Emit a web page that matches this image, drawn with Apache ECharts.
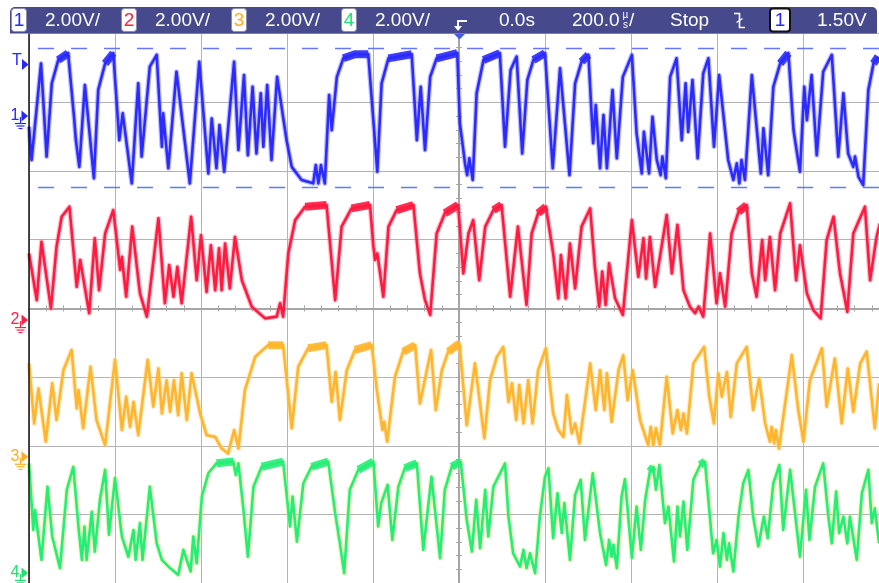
<!DOCTYPE html>
<html><head><meta charset="utf-8">
<script src="https://cdn.jsdelivr.net/npm/echarts@6/dist/echarts.min.js"></script>
<style>html,body{margin:0;padding:0;background:#fff;}#c{width:879px;height:583px;}</style>
</head><body><div id="c"></div>
<script>
// ---- Data (time in µs, voltage in V) ----
const ch1Time = [-1000,-994,-972,-959,-947,-932,-909,-895,-891,-883,-870,-849,-839,-823,-804,-790,-782,-761,-746,-738,-719,-703,-691,-688,-676,-657,-626,-604,-583,-575,-564,-557,-546,-523,-513,-500,-491,-480,-471,-461,-455,-446,-436,-423,-401,-389,-366,-339,-333,-327,-321,-312,-302,-296,-284,-269,-242,-211,-190,-180,-164,-110,-98,-89,-79,-67,-52,-4,2,14,19,24,32,41,57,95,107,120,134,147,159,173,200,218,235,257,270,285,301,312,318,328,336,344,357,367,381,402,413,425,430,442,450,460,469,473,481,491,506,518,527,533,543,555,568,580,593,605,626,638,646,652,657,665,681,702,708,719,731,747,766,778,785,793,803,809,820,832,847,867,882,894,905,917,921,929,940,952,964,975];
const ch1Volt = [-0.31,-1.28,1.53,-1.18,0.95,1.63,1.83,-0.07,-0.70,-1.48,0.90,-1.81,0.76,1.53,1.83,-0.70,0.08,-1.96,0.95,-1.18,1.44,1.78,-0.89,0.08,-1.52,1.29,-1.96,1.58,-1.67,-0.07,-1.52,-0.26,-1.62,1.58,-0.99,1.19,-1.14,0.85,-1.09,0.66,-0.89,0.90,-1.28,1.14,-0.70,-1.48,-1.86,-1.96,-1.43,-1.96,-1.43,-1.96,0.61,-0.41,1.14,1.68,1.80,1.80,-1.62,0.95,1.68,1.80,-0.70,0.85,-0.99,1.14,1.68,1.83,-0.21,-1.38,-1.72,-1.23,-1.86,0.66,1.63,1.83,-0.89,1.34,1.73,-1.09,1.05,1.63,1.83,-1.52,1.39,-1.72,0.95,1.58,1.78,-0.79,0.32,-1.52,0.03,-1.52,0.76,-1.23,1.14,1.78,-0.50,-1.67,-0.46,-1.67,-0.02,-1.28,-1.72,-1.18,-1.81,1.14,1.68,-0.70,0.95,-0.46,1.05,-1.23,1.24,1.68,-0.89,1.19,-1.28,-1.86,-1.38,-1.96,-1.28,-1.86,1.19,-1.67,-0.36,-1.72,0.85,1.53,1.83,-0.41,-0.99,-1.62,0.85,-0.12,1.19,-1.14,1.29,1.78,-1.18,0.66,-1.09,-1.48,-1.18,-1.77,-2.01,0.76,1.53,1.73];

const ch2Time = [-1000,-982,-971,-949,-936,-924,-906,-889,-881,-860,-847,-837,-823,-804,-788,-784,-774,-760,-742,-726,-699,-684,-674,-664,-655,-645,-623,-610,-600,-587,-577,-567,-558,-552,-544,-533,-521,-505,-482,-451,-424,-416,-409,-397,-381,-358,-308,-288,-273,-250,-207,-199,-195,-190,-176,-164,-145,-106,-91,-79,-67,-52,-33,-2,10,22,33,47,61,80,99,119,137,157,169,184,202,219,231,237,248,258,270,285,305,316,326,333,341,349,363,381,402,417,429,435,444,456,483,495,508,522,537,549,557,568,584,599,607,619,634,650,669,681,692,705,712,723,735,747,770,784,793,809,824,841,855,871,886,903,917,944,956,971,979];
const ch2Volt = [1.94,0.58,2.28,0.34,2.13,3.01,3.30,0.97,1.75,0.20,2.38,0.87,2.52,3.20,1.46,1.84,0.68,2.72,0.78,0.10,2.96,0.49,1.60,0.68,1.55,0.49,3.01,1.16,2.47,0.82,2.18,0.87,2.09,0.87,2.23,0.92,2.42,1.16,0.39,0.05,0.10,0.49,0.10,1.94,2.91,3.30,3.35,0.58,2.72,3.25,3.35,2.13,1.75,1.94,0.68,2.72,3.20,3.35,1.36,0.58,0.15,2.52,3.11,3.35,1.36,2.52,2.91,1.16,2.72,3.20,3.35,0.68,2.72,0.44,2.52,3.11,3.30,1.94,0.63,1.89,0.63,2.23,0.92,2.72,3.25,1.55,0.39,1.41,0.44,1.65,0.63,0.15,2.91,1.26,2.38,1.21,2.42,0.97,3.06,1.36,2.77,0.87,0.39,0.20,0.39,0.10,2.52,0.49,1.36,0.39,2.52,3.15,3.35,1.36,0.68,2.33,1.16,2.42,0.87,2.52,3.40,1.16,2.18,0.78,0.29,0.05,2.33,3.01,1.36,0.24,2.52,3.30,1.16,2.42,2.81];

const ch3Time = [-1000,-988,-978,-961,-946,-936,-920,-901,-889,-885,-874,-857,-843,-823,-800,-784,-774,-765,-757,-746,-724,-711,-699,-691,-680,-672,-663,-653,-645,-633,-622,-602,-587,-567,-552,-537,-523,-513,-498,-474,-444,-409,-389,-374,-351,-308,-296,-287,-277,-261,-242,-203,-191,-178,-174,-167,-149,-130,-102,-91,-65,-54,-40,-25,1,18,37,59,72,88,103,115,123,133,140,150,161,171,184,202,219,231,243,251,262,270,280,305,318,328,338,344,355,371,382,392,404,421,440,446,452,458,467,483,497,508,516,522,530,545,570,582,593,603,611,623,632,646,669,684,698,712,723,727,733,737,744,774,789,801,816,844,855,874,890,904,917,933,948,967,977];
const ch3Volt = [2.72,0.97,1.99,0.44,2.14,1.07,2.52,3.11,1.41,1.94,0.83,2.62,1.07,0.34,2.82,0.78,1.75,0.87,1.60,0.63,2.82,1.46,2.57,1.26,2.23,1.31,2.23,1.21,2.43,1.07,2.43,1.26,0.63,0.58,0.24,0.10,0.78,0.24,1.94,2.91,3.25,3.25,0.83,2.62,3.16,3.25,1.60,2.47,1.07,2.52,3.11,3.25,1.94,0.78,1.02,0.44,2.33,3.06,3.25,1.55,3.11,1.36,2.52,3.06,3.30,0.92,2.72,0.54,2.23,2.91,3.20,1.60,2.14,1.07,2.09,0.97,2.23,0.97,2.52,3.16,1.26,0.78,0.58,1.80,0.68,0.97,0.39,2.72,1.36,2.52,1.36,2.43,1.02,2.52,2.96,1.65,2.52,1.07,0.34,0.87,0.34,0.83,0.34,2.33,0.68,1.36,0.78,1.26,0.68,2.72,3.20,1.75,0.97,2.43,1.75,2.47,1.16,2.72,3.20,1.36,2.28,0.97,0.44,0.87,0.39,0.78,0.24,2.96,1.36,0.44,2.23,3.16,1.46,2.86,0.97,2.57,1.31,2.72,3.06,0.83,2.14];

const ch4Time = [-1000,-990,-986,-971,-957,-946,-928,-912,-897,-885,-877,-871,-866,-854,-847,-835,-823,-814,-800,-784,-769,-757,-752,-742,-736,-719,-703,-691,-672,-653,-641,-624,-618,-610,-598,-583,-564,-525,-519,-513,-502,-491,-478,-459,-409,-393,-387,-377,-362,-343,-304,-288,-277,-267,-254,-234,-199,-188,-181,-166,-155,-141,-126,-98,-83,-64,-44,-33,-17,4,18,30,40,49,61,68,80,107,115,126,142,150,157,165,177,188,200,208,219,229,239,245,258,270,283,293,311,328,342,349,355,359,367,378,386,402,413,423,433,444,452,458,466,479,487,500,508,514,522,531,545,561,572,591,599,607,615,623,628,638,650,661,673,684,696,709,718,731,745,754,770,793,807,815,828,847,859,867,877,884,894,903,909,925,937,952,960,967,977];
const ch4Volt = [3.19,1.25,1.83,0.38,2.51,1.06,0.14,2.42,3.09,1.35,0.38,1.35,0.38,1.78,0.62,2.13,3.00,1.11,2.76,1.06,0.47,1.25,0.38,1.45,0.38,2.51,0.86,0.38,0.14,-0.06,0.67,0.04,1.06,0.28,2.22,2.90,3.19,3.24,2.85,3.19,1.93,0.47,2.51,3.09,3.24,1.35,2.22,0.91,2.61,3.09,3.24,1.74,0.86,-0.01,2.42,3.00,3.24,1.35,2.03,2.56,0.96,2.51,3.05,3.19,0.67,2.80,0.43,2.42,3.09,3.24,1.54,0.62,2.13,0.72,2.42,1.06,2.51,3.19,1.64,0.57,0.18,0.67,0.14,0.57,-0.01,1.64,2.80,3.05,1.01,2.32,1.16,2.03,0.38,2.27,2.71,0.96,2.90,1.16,0.23,0.96,0.47,0.82,0.14,2.22,2.73,0.43,1.93,0.67,2.13,2.95,3.09,2.42,3.14,1.45,1.93,0.33,1.93,1.06,2.08,0.67,2.71,3.14,3.24,0.57,0.96,0.18,1.16,0.38,0.86,0.04,1.64,2.61,3.00,1.64,0.77,1.64,1.01,2.61,3.14,1.25,3.00,0.47,2.42,0.96,2.51,3.19,1.64,0.86,2.37,1.16,1.64,0.86,1.64,0.38,2.32,3.00,1.45,1.88,0.86];

// Scope settings
const channelLabels = ['1','2','3','4'];
const voltsPerDiv = [2, 2, 2, 2];
const offsetDiv = [2.80, -0.17, -2.16, -3.85];   // channel ground position, in divisions
const channelColors = ['#2b2bff', '#ff1a40', '#ffb52e', '#25ee78'];
const haloColors = ['#6a6aff', '#ff6a86', '#ffd27a', '#d8f06a'];
const markerColors = ['#2626ff', '#ff2046', '#ffae1e', '#1ee070'];
const timePerDiv = 200;          // µs
const triggerLevel = 1.5;        // V on channel 1
const cursorLevels = [1.97, -2.08]; // V on channel 1
const headerScales = ['2.00V/', '2.00V/', '2.00V/', '2.00V/'];
const headerDelay = '0.0s';
const headerTimebase = '200.0';
const headerState = 'Stop';
const headerTrig = '1.50V';

const FONT = '"Liberation Sans", Arial, sans-serif';
const times = [ch1Time, ch2Time, ch3Time, ch4Time];
const volts = [ch1Volt, ch2Volt, ch3Volt, ch4Volt];

const chart = echarts.init(document.getElementById('c'), null, {renderer: 'canvas'});

const gridColor = '#b4b4b4';
const series = [];
times.forEach((tArr, i) => {
  const vArr = volts[i];
  const data = tArr.map((t, j) => [t, vArr[j] / voltsPerDiv[i] + offsetDiv[i]]);
  const vMax = Math.max.apply(null, vArr);
  const thr = vMax - 0.3;
  const band = tArr.map((t, j) => {
    const hi = vArr[j] >= thr;
    const nb = (j > 0 && vArr[j - 1] >= thr) || (j < vArr.length - 1 && vArr[j + 1] >= thr);
    return hi && nb ? data[j] : [t, null];
  });
  const z = 3 + (3 - i) * 3;
  series.push({type: 'line', data: data, showSymbol: false, symbol: 'none', animation: false, silent: true,
    lineStyle: {color: haloColors[i], width: 5, opacity: 0.45, join: 'round'}, z: z});
  series.push({type: 'line', data: band, connectNulls: false, showSymbol: false, symbol: 'none', animation: false, silent: true,
    lineStyle: {color: channelColors[i], width: 8, opacity: 0.9, join: 'round'}, z: z + 1});
  series.push({type: 'line', name: 'CH' + channelLabels[i], data: data, showSymbol: false, symbol: 'none', animation: false, silent: true,
    lineStyle: {color: channelColors[i], width: 2.6, join: 'round'}, z: z + 2});
});
series[2].markLine = {
  silent: true, symbol: 'none', animation: false,
  label: {show: false},
  lineStyle: {color: '#6677ff', width: 1.3, type: [16, 17]},
  data: cursorLevels.map(v => [
    {coord: [-979, v / voltsPerDiv[0] + offsetDiv[0]]},
    {coord: [1000, v / voltsPerDiv[0] + offsetDiv[0]]}
  ])
};

function xAx(inside, showLine) {
  return {
    type: 'value', min: -5 * timePerDiv, max: 5 * timePerDiv, interval: timePerDiv,
    position: 'bottom',
    axisLine: {show: showLine, onZero: true, lineStyle: {color: '#a6a6a6', width: 2}},
    axisTick: {show: false, inside: inside},
    minorTick: {show: true, splitNumber: 5, length: 3, lineStyle: {color: '#a6a6a6', width: 1}},
    axisLabel: {show: false},
    splitLine: {show: showLine, lineStyle: {color: gridColor, width: 1}}
  };
}
function yAx(inside, showLine) {
  return {
    type: 'value', min: -4, max: 4, interval: 1,
    position: 'left',
    axisLine: {show: showLine, onZero: true, lineStyle: {color: '#a6a6a6', width: 2}},
    axisTick: {show: false, inside: inside},
    minorTick: {show: true, splitNumber: 5, length: 3, lineStyle: {color: '#a6a6a6', width: 1}},
    axisLabel: {show: false},
    splitLine: {show: showLine, lineStyle: {color: gridColor, width: 1}}
  };
}

chart.setOption({
  animation: false,
  backgroundColor: '#ffffff',
  grid: {left: 29, top: 33.6, width: 860, height: 549.6, containLabel: false, outerBoundsMode: 'none'},
  xAxis: [xAx(false, true), xAx(true, false)],
  yAxis: [yAx(false, true), yAx(true, false)],
  series: series
});

// ---- Overlay: header bar and channel markers ----
function txt(x, y, s, size, color, align) {
  return {type: 'text', x: x, y: y, z: 100, silent: true,
    style: {text: s, fontSize: size, fontFamily: FONT, fill: color,
      textAlign: align || 'left', align: align || 'left',
      textVerticalAlign: 'middle', verticalAlign: 'middle'}};
}
function box(x, w, label, color, stroke, lw) {
  return [
    {type: 'rect', z: 99, silent: true, shape: {x: x, y: 8.5, width: w, height: 23, r: 3},
      style: {fill: '#ffffff', stroke: stroke, lineWidth: lw}},
    txt(x + w / 2, 20.5, label, 19, color, 'center')
  ];
}
const g = [];
g.push({type: 'rect', z: 98, silent: true, shape: {x: 10, y: 7, width: 867, height: 26.6, r: [5, 5, 0, 0]},
  style: {fill: '#46498b'}});
const boxX = [11.5, 121.5, 231.5, 341.5];
const scaleX = [45, 155, 265, 375];
for (let i = 0; i < 4; i++) {
  g.push(...box(boxX[i], 15, channelLabels[i], markerColors[i], '#8c8cb0', 1));
  g.push(txt(scaleX[i], 20.5, headerScales[i], 19, '#ffffff'));
}
g.push({type: 'polyline', z: 100, silent: true, shape: {points: [[467, 21], [458, 21], [458, 27]]},
  style: {stroke: '#ffffff', lineWidth: 2, fill: null}});
g.push({type: 'polygon', z: 100, silent: true, shape: {points: [[454, 26], [462, 26], [458, 31]]},
  style: {fill: '#ffffff'}});
g.push({type: 'polygon', z: 100, silent: true, shape: {points: [[454, 34], [465, 34], [459.5, 39.5]]},
  style: {fill: '#3f5fe8'}});
g.push(txt(499, 20.5, headerDelay, 19, '#ffffff'));
g.push(txt(572, 20.5, headerTimebase, 19, '#ffffff'));
g.push(txt(625.5, 15, 'µ', 10, '#ffffff', 'center'));
g.push(txt(625.5, 25, 's', 10, '#ffffff', 'center'));
g.push(txt(629, 20.5, '/', 19, '#ffffff'));
g.push(txt(670, 20.5, headerState, 19, '#ffffff'));
g.push({type: 'polyline', z: 100, silent: true, shape: {points: [[734, 13.5], [739.5, 13.5], [739.5, 27.5], [745, 27.5]]},
  style: {stroke: '#ffffff', lineWidth: 1.6, fill: null}});
g.push({type: 'line', z: 100, silent: true, shape: {x1: 736.5, y1: 22.5, x2: 742.5, y2: 18.5},
  style: {stroke: '#ffffff', lineWidth: 1.4}});
g.push(...box(770, 20, '1', markerColors[0], '#111111', 2));
g.push(txt(817, 20.5, headerTrig, 19, '#ffffff'));
g.push({type: 'line', z: 50, silent: true, shape: {x1: 29, y1: 33.6, x2: 29, y2: 583}, style: {stroke: '#111111', lineWidth: 1.5}});

for (let i = 0; i < 4; i++) {
  const y = chart.convertToPixel({gridIndex: 0}, [0, offsetDiv[i]])[1];
  const c = markerColors[i];
  g.push(txt(15, y - 0.5, channelLabels[i], 16, c, 'center'));
  g.push({type: 'polygon', z: 100, silent: true, shape: {points: [[21.5, y - 5.5], [28, y], [21.5, y + 5.5]]}, style: {fill: c}});
  g.push({type: 'line', z: 100, silent: true, shape: {x1: 20.5, y1: y + 1, x2: 20.5, y2: y + 7.5}, style: {stroke: c, lineWidth: 1.2}});
  [[5.5, 7.5], [4, 10], [2, 12.5]].forEach(([hw, dy]) => {
    g.push({type: 'line', z: 100, silent: true, shape: {x1: 20.5 - hw, y1: y + dy, x2: 20.5 + hw, y2: y + dy}, style: {stroke: c, lineWidth: 1.2}});
  });
}
{
  const yT = chart.convertToPixel({gridIndex: 0}, [0, triggerLevel / voltsPerDiv[0] + offsetDiv[0]])[1];
  g.push(txt(17, yT - 4, 'T', 16, markerColors[0], 'center'));
  g.push({type: 'polygon', z: 100, silent: true, shape: {points: [[22, yT - 5.5], [28.5, yT], [22, yT + 5.5]]}, style: {fill: markerColors[0]}});
}
chart.setOption({graphic: {elements: g}});
</script>
</body></html>
